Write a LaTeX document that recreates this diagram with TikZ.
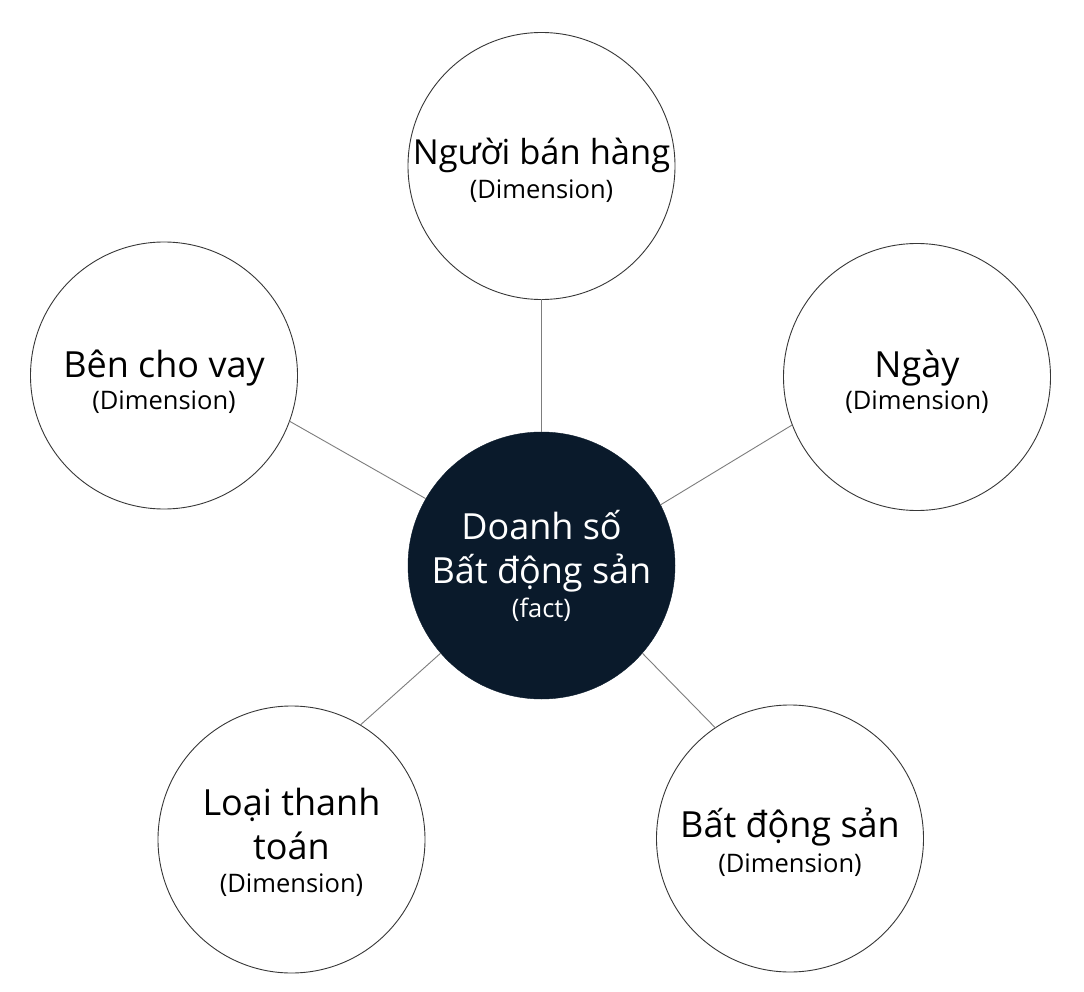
\documentclass[tikz,border=0pt]{standalone}
\usepackage{fontspec}
\setmainfont{Open Sans}
\definecolor{factblue}{RGB}{10,26,43}
\definecolor{linkgray}{RGB}{125,125,125}
\definecolor{rimgray}{RGB}{55,55,55}
\newcommand{\dimtag}[1]{{\fontsize{25.5}{32}\selectfont #1}}

\begin{document}
\begin{tikzpicture}[
    x = 1pt, y = -1pt, align = center,
    dimension/.style = {circle, draw = rimgray, line width = 0.9pt, fill = white, inner sep = 0pt, outer sep = 0pt, minimum size = 267pt, font = \fontsize{36}{44}\selectfont},
    fact/.style = {circle, draw = factblue, fill = factblue, text = white, inner sep = 0pt, outer sep = 0pt, minimum size = 267pt, font = \fontsize{36}{44}\selectfont},
    % lift the text block: its last baseline ends up #1/2 below the centre
    lift/.style = {text height = #1, text depth = 0pt},
    link/.style = {draw = linkgray, line width = 0.9pt},
    ]

    % page
    \fill [white] (0,0) rectangle (1084,992);
    \useasboundingbox (0,0) rectangle (1084,992);

    % draw fact and dimensions
    \node [fact, lift = 103pt] (sales)  at (541.5,565.5) {Doanh số\\Bất động sản\\[-10pt]\dimtag{(fact)}};
    \node [dimension, lift = 66pt]  (seller)   at (541.5,166)   {{\fontsize{34.5}{44}\selectfont Người bán hàng}\\[-10pt]\dimtag{(Dimension)}};
    \node [dimension, lift = 67pt]  (lender)   at (164,375.5)   {Bên cho vay\\[-12pt]\dimtag{(Dimension)}};
    \node [dimension, lift = 64pt]  (day)      at (917,377)     {Ngày\\[-12pt]\dimtag{(Dimension)}};
    \node [dimension, lift = 105pt] (payment)  at (291.5,839.5) {Loại thanh\\toán\\[-11pt]\dimtag{(Dimension)}};
    \node [dimension, lift = 67pt]  (property) at (790,838.5)   {Bất động sản\\[-9pt]\dimtag{(Dimension)}};

    % draw links
    \draw [link] (sales.90)    -- (seller.270);
    \draw [link] (sales.150.8) -- (lender.340.1);
    \draw [link] (sales.27.3)  -- (day.201.8);
    \draw [link] (sales.221)   -- (payment.59.9);
    \draw [link] (sales.319.2) -- (property.124.7);
\end{tikzpicture}
\end{document}
